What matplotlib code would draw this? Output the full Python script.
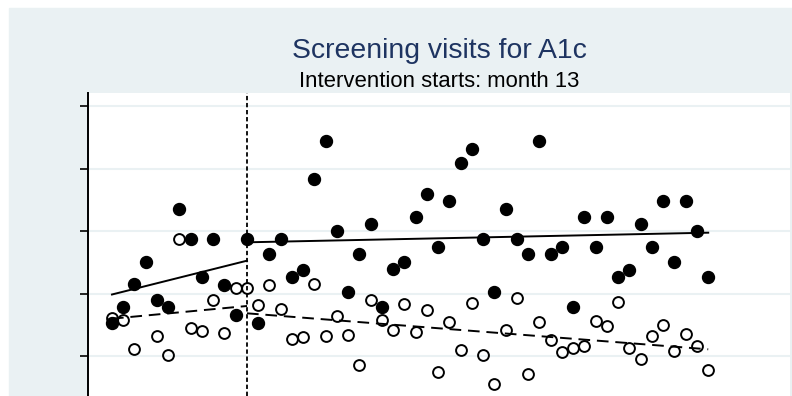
import numpy as np
import matplotlib.pyplot as plt
from matplotlib.patches import Rectangle

plt.rcParams['font.family'] = ['Liberation Sans', 'DejaVu Sans']

# monthly series, months 1..54
months = np.arange(1, 55)

screened = [15.33, 17.79, 21.47, 25.09, 19.01, 17.79, 33.52, 28.67, 22.64, 28.67,
            21.41, 16.61, 28.67, 15.33, 26.27, 28.67, 22.64, 23.81, 38.37, 44.40,
            29.95, 20.24, 26.27, 31.12, 17.79, 23.87, 25.04, 32.29, 35.92, 27.49,
            34.75, 40.83, 43.17, 28.67, 20.24, 33.57, 28.67, 26.27, 44.40, 26.27,
            27.49, 17.79, 32.29, 27.49, 32.29, 22.64, 23.81, 31.12, 27.49, 34.75,
            25.04, 34.75, 29.95, 22.64]

control = [16.08, 15.84, 11.20, np.nan, 13.25, 10.24, 28.67, 14.43, 14.00, 18.96,
           13.63, 20.93, 20.93, 18.11, 21.31, 17.47, 12.72, 12.99, 21.47, 13.20,
           16.45, 13.36, 8.56, 18.96, 15.84, 14.24, 18.27, 13.79, 17.31, 7.44,
           15.49, 11.01, 18.48, 10.21, 5.52, 14.16, 19.28, 7.17, 15.39, 12.56,
           10.69, 11.33, 11.65, 15.65, 14.80, 18.64, 11.33, 9.52, 13.25, 14.91,
           10.80, 13.47, 11.65, 7.76]

# fitted segments before / after the intervention
pre_x = [1, 13]
post_x = [13, 54]
screened_pre = [19.84, 25.25]
screened_post = [28.19, 29.73]
control_pre = [15.97, 18.00]
control_post = [16.83, 11.07]

intervention = 13
yticks = [10, 20, 30, 40, 50]

bg = '#eaf1f3'

fig = plt.figure(figsize=(7.92, 3.96), dpi=100, facecolor='white')
fig.patches.append(Rectangle((9 / 792, 0), 1 - 9 / 792, 1 - 8 / 396,
                             transform=fig.transFigure, color=bg, zorder=-5))

ax = fig.add_axes([88 / 792, 0, 702 / 792, 303 / 396])
ax.set_zorder(2)
ax.set_facecolor('white')

ax.set_xlim(-1.133, 61.27)
ax.set_ylim(3.6, 52.08)
ax.set_yticks(yticks)
ax.set_yticklabels([])
ax.set_xticks([])
ax.grid(axis='y', color=bg, lw=1.5)
ax.set_axisbelow(True)
ax.tick_params(axis='y', direction='out', length=6, width=1.2, color='black')

for s in ['top', 'right', 'bottom']:
    ax.spines[s].set_visible(False)
ax.spines['left'].set_color('black')
ax.spines['left'].set_linewidth(1.4)

ax.plot(months, control, 'o', ms=7.8, mfc='none', mec='black', mew=1.4, zorder=3)
ax.plot(months, screened, 'o', ms=8.6, color='black', zorder=4)

ax.plot(pre_x, screened_pre, color='black', lw=1.4, zorder=5)
ax.plot(post_x, screened_post, color='black', lw=1.4, zorder=5)
ax.plot(pre_x, control_pre, color='black', lw=1.4, ls=(0, (6, 3.5)), zorder=5)
ax.plot(post_x, control_post, color='black', lw=1.4, ls=(0, (6, 3.5)), zorder=5)

ax.axvline(intervention, color='black', lw=1.3, ls=(0, (2.4, 1.5)), zorder=6)

cx = (88 + 790) / 2 / 792
fig.text(cx, 1 - 57.5 / 396, 'Screening visits for A1c', ha='center', va='baseline',
         fontsize=20.4, color='#1e3461')
fig.text(cx, 1 - 87.3 / 396, 'Intervention starts: month 13', ha='center', va='baseline',
         fontsize=15.9, color='black')

fig.savefig('out.png', dpi=100, facecolor=fig.get_facecolor())
